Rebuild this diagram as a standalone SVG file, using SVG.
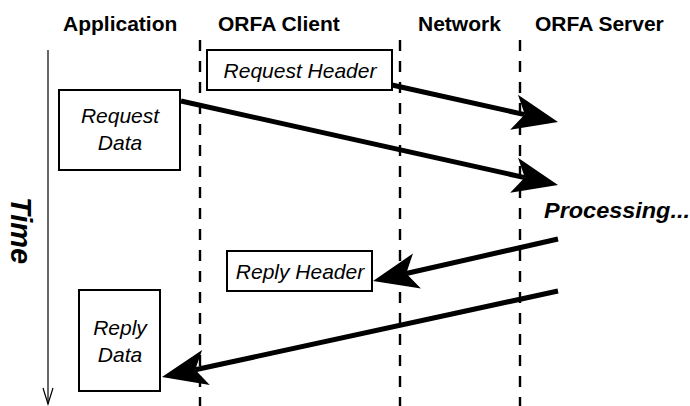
<svg xmlns="http://www.w3.org/2000/svg" width="690" height="406" viewBox="0 0 690 406">
<defs>
<style>
.hdr{font-family:"Liberation Sans",Arial,sans-serif;font-weight:bold;font-size:21px;fill:#000}
.lbl{font-family:"Liberation Sans",Arial,sans-serif;font-style:italic;font-size:21px;fill:#000;text-anchor:middle}
.big{font-family:"Liberation Sans",Arial,sans-serif;font-style:italic;font-weight:bold;fill:#000}
.box{fill:#fff;stroke:#000;stroke-width:2}
.lane{stroke:#000;stroke-width:2.4;stroke-dasharray:11 10;fill:none}
.msg{stroke:#000;stroke-width:5;fill:none;marker-end:url(#head)}
</style>
<marker id="head" viewBox="-50 -22 54 44" refX="-34" refY="0" markerWidth="54" markerHeight="44" markerUnits="userSpaceOnUse" orient="auto">
<path d="M0,0 L-45,-18 L-34,0 L-45,18 Z" fill="#000"/>
</marker>
</defs>
<g id="headers">
<text class="hdr" x="63" y="31">Application</text>
<text class="hdr" x="218" y="31">ORFA Client</text>
<text class="hdr" x="418" y="31">Network</text>
<text class="hdr" x="535" y="31">ORFA Server</text>
</g>
<g id="lanes">
<line class="lane" x1="200" y1="40" x2="200" y2="406"/>
<line class="lane" x1="400" y1="40" x2="400" y2="406"/>
<line class="lane" x1="520" y1="40" x2="520" y2="406"/>
</g>
<g id="time-axis">
<line x1="48" y1="50" x2="48" y2="404" stroke="#000" stroke-width="1.2"/>
<polyline points="43,388 48,404 53,388" fill="none" stroke="#000" stroke-width="1.2"/>
<text class="big" font-size="29" transform="translate(11,197) rotate(90)">Time</text>
</g>
<g id="connectors">
<line class="msg" x1="392" y1="85" x2="524.8" y2="114.6"/>
<line class="msg" x1="181" y1="101" x2="524.8" y2="177.6"/>
<line class="msg" x1="558" y1="239" x2="406.2" y2="273.5"/>
<line class="msg" x1="558" y1="291" x2="195.2" y2="369.8"/>
</g>
<g id="request-header">
<rect class="box" x="207" y="50" width="185" height="40"/>
<text class="lbl" x="300" y="78">Request Header</text>
</g>
<g id="request-data">
<rect class="box" x="59" y="90" width="121" height="80"/>
<text class="lbl" x="120" y="123">Request</text>
<text class="lbl" x="120" y="150">Data</text>
</g>
<g id="processing">
<text class="big" font-size="22" x="544" y="218" textLength="146" lengthAdjust="spacingAndGlyphs">Processing...</text>
</g>
<g id="reply-header">
<rect class="box" x="227" y="251" width="145" height="40"/>
<text class="lbl" x="300" y="279">Reply Header</text>
</g>
<g id="reply-data">
<rect class="box" x="79" y="290" width="81" height="101"/>
<text class="lbl" x="120" y="335">Reply</text>
<text class="lbl" x="120" y="362">Data</text>
</g>
</svg>
